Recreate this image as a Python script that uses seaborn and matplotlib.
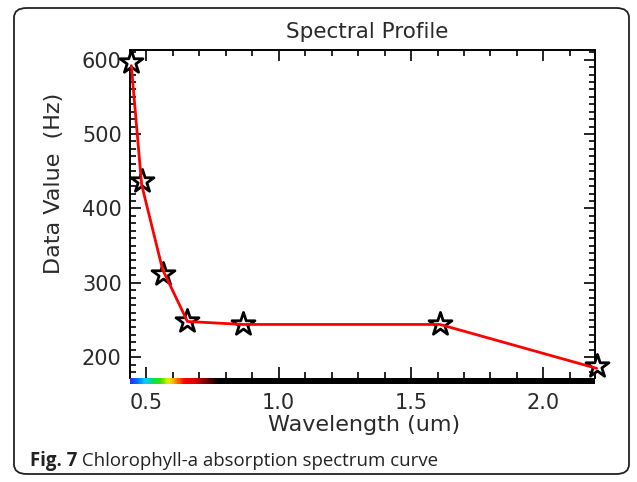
import numpy as np
import pandas as pd
import matplotlib
matplotlib.use("Agg")
import matplotlib.pyplot as plt
import seaborn as sns
from matplotlib.colors import LinearSegmentedColormap
from matplotlib.patches import FancyBboxPatch
from matplotlib.ticker import MultipleLocator

# ---- data ----
wavelength = [0.443, 0.482, 0.561, 0.655, 0.865, 1.609, 2.201]
data_value = [597, 437, 312, 249, 245, 245, 188]
curve_wl = [0.443, 0.482, 0.561, 0.655, 0.865, 1.609, 2.201]
curve_val = [592, 432, 318, 248, 244, 244, 185]

title = "Spectral Profile"
xlabel = "Wavelength (um)"
ylabel = "Data Value  (Hz)"
caption_bold = "Fig. 7"
caption_text = " Chlorophyll-a absorption spectrum curve"

# spectrum colour band (wavelength -> colour)
band_wl = [0.438, 0.46, 0.49, 0.52, 0.55, 0.58, 0.61, 0.64, 0.68, 0.72, 0.77, 2.195]
band_col = ["#3030ff", "#0070ff", "#00d0ff", "#00e060", "#40e000", "#f0f000",
            "#ff8000", "#ff0000", "#e00000", "#800000", "#000000", "#000000"]

sns.set_theme(style="white")
plt.rcParams['font.family'] = ['DejaVu Sans']

TXT = "#2a2a2a"
fig = plt.figure(figsize=(6.37, 4.82), dpi=100)
ax = fig.add_axes([130/637, 1-378/482, 465/637, 328/482])

df = pd.DataFrame({"wl": wavelength, "val": data_value})
cdf = pd.DataFrame({"wl": curve_wl, "val": curve_val})

sns.scatterplot(data=df, x="wl", y="val", ax=ax, marker="*", s=300,
                facecolor="white", edgecolor="black", linewidth=2.0,
                clip_on=False, zorder=3)
sns.lineplot(data=cdf, x="wl", y="val", ax=ax, color="#ff0000", lw=2,
             zorder=4, clip_on=False, sort=False)

ax.set_xlim(0.438, 2.195)
ax.set_ylim(172, 613)
ax.xaxis.set_major_locator(MultipleLocator(0.5))
ax.xaxis.set_minor_locator(MultipleLocator(0.1))
ax.yaxis.set_major_locator(MultipleLocator(100))
ax.yaxis.set_minor_locator(MultipleLocator(10))
ax.xaxis.set_major_formatter(matplotlib.ticker.FormatStrFormatter('%.1f'))
ax.tick_params(which="both", direction="in", top=True, right=True, bottom=True, left=True,
               colors="black", labelcolor=TXT, labelsize=15)
ax.tick_params(which="major", length=8, width=1.2)
ax.tick_params(which="minor", length=4, width=1.2)
ax.tick_params(axis="x", pad=11)
ax.tick_params(axis="y", pad=6)
for s in ["top", "right", "left"]:
    ax.spines[s].set_color("black")
    ax.spines[s].set_linewidth(1.4)
ax.spines["bottom"].set_visible(False)

ax.set_xlabel(xlabel, fontsize=16, color=TXT)
ax.xaxis.set_label_coords((364-130)/465, -(415-378)/328)
ax.set_ylabel(ylabel, fontsize=16, color=TXT)
ax.yaxis.set_label_coords((64-130)/465, (378-183)/328)
ax.set_title(title, fontsize=15.5, color=TXT, pad=9, x=(367-130)/465)

# colour band under the x axis
bax = fig.add_axes([130/637, 1-384/482, 465/637, 6/482], sharex=ax)
cmap = LinearSegmentedColormap.from_list(
    "spec", [((w - band_wl[0]) / (band_wl[-1] - band_wl[0]), c) for w, c in zip(band_wl, band_col)])
grad = np.linspace(0, 1, 600).reshape(1, -1)
bax.imshow(grad, aspect="auto", cmap=cmap, extent=[band_wl[0], band_wl[-1], 0, 1])
bax.set_ylim(0, 1)
bax.axis("off")

# rounded frame
frame = FancyBboxPatch((14/637, 8/482), 615/637, 466/482,
                       boxstyle="round,pad=0,rounding_size=0.02",
                       transform=fig.transFigure, fill=False, ec="#222222", lw=1.3)
fig.patches.append(frame)

t1 = fig.text(30/637, 1-461/482, caption_bold, fontsize=13.4, fontweight="bold",
              family=["Open Sans", "DejaVu Sans"], va="center", color="#222222")
fig.canvas.draw()
bb = t1.get_window_extent()
fig.text(bb.x1/637, 1-461/482, caption_text, fontsize=13.4,
         family=["Open Sans", "DejaVu Sans"], va="center", color="#222222")

fig.savefig("out.png", dpi=100)
